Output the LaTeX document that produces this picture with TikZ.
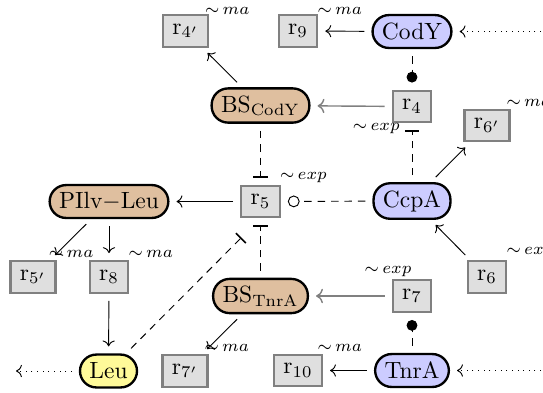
\documentclass[tikz,border=0pt]{standalone}
\usepackage{amsmath}
\usetikzlibrary{arrows.meta}
\tikzset{>=To}
\def\rescale{0.4255}

\begin{document}
\begin{tikzpicture}[x=\rescale pt, y=-\rescale pt,
  species/.style={rectangle, rounded corners=7pt, draw=black, line width=1pt, inner xsep=4pt, inner ysep=3pt, minimum height=14pt},
  bsite/.style={species, fill=brown!50},
  prot/.style={species, fill=blue!20},
  metab/.style={species, fill=yellow!40},
  rxn/.style={rectangle, draw=gray, fill=gray!25, line width=0.9pt, inner xsep=4pt, inner ysep=2pt, minimum height=13.5pt},
  lbl/.style={font=\scriptsize, inner sep=0.8pt},
  edge/.style={shorten >=3pt, shorten <=3pt},
  flux/.style={edge, ->},
  fluxg/.style={flux, draw=gray, line width=0.6pt},
  modline/.style={edge, dash pattern=on 3.2pt off 2.5pt},
  inh/.style={modline, -{Bar[width=6pt, line width=0.7pt]}},
  stim/.style={modline, -{Circle[length=4.6pt]}},
  cat/.style={modline, -{Circle[open, length=5pt]}},
  ext/.style={edge, dotted, ->}
]
\useasboundingbox (0,0) rectangle (543,392);

% species
\node[prot] (CodY) at (412,31.5) {CodY};
\node[bsite] (BSCodY) at (260.5,105.5) {BS$_{\mathrm{CodY}}$};
\node[bsite] (PIlvLeu) at (109,201.5) {PIlv$-$Leu};
\node[prot] (CcpA) at (412,201) {CcpA};
\node[bsite] (BSTnrA) at (260.5,296) {BS$_{\mathrm{TnrA}}$};
\node[metab] (Leu) at (108.5,371) {Leu};
\node[prot] (TnrA) at (412,370.5) {TnrA};

% reactions
\node[rxn, label={[lbl, yshift=-1.2pt]above right:${\sim}\,ma$}] (r4p) at (185.5,31) {r$_{4'}$};
\node[rxn, label={[lbl, yshift=-1.2pt]above right:${\sim}\,ma$}] (r9) at (298,31) {r$_9$};
\node[rxn, label={[lbl, xshift=3pt, yshift=1pt]below left:${\sim}\,exp$}] (r4) at (412,106.5) {r$_4$};
\node[rxn, label={[lbl]above right:${\sim}\,ma$}] (r6p) at (487,125.5) {r$_{6'}$};
\node[rxn, label={[lbl]above right:${\sim}\,exp$}] (r5) at (260.5,201.5) {r$_5$};
\node[rxn, label={[lbl, xshift=-1.5pt]above right:${\sim}\,ma$}] (r5p) at (33,277) {r$_{5'}$};
\node[rxn, label={[lbl]above right:${\sim}\,ma$}] (r8) at (109,277) {r$_8$};
\node[rxn, label={[lbl]above right:${\sim}\,exp$}] (r6) at (487,277) {r$_6$};
\node[rxn, label={[lbl, xshift=8pt]above left:${\sim}\,exp$}] (r7) at (412,296) {r$_7$};
\node[rxn, label={[lbl]above right:${\sim}\,ma$}] (r7p) at (185,371) {r$_{7'}$};
\node[rxn, label={[lbl]above right:${\sim}\,ma$}] (r10) at (298,370.5) {r$_{10}$};

% inputs and outputs
\coordinate (inCodY) at (565,31.5);
\coordinate (inTnrA) at (565,370.5);
\coordinate (outLeu) at (9,371);

% fluxes
\draw[flux] (CodY) -- (r9);
\draw[flux] (BSCodY) -- (r4p);
\draw[fluxg] (r4) -- (BSCodY);
\draw[flux] (CcpA) -- (r6p);
\draw[flux] (r6) -- (CcpA);
\draw[flux] (r5) -- (PIlvLeu);
\draw[flux] (PIlvLeu) -- (r5p);
\draw[flux] (PIlvLeu) -- (r8);
\draw[flux] (r8) -- (Leu);
\draw[fluxg] (r7) -- (BSTnrA);
\draw[flux] (BSTnrA) -- (r7p);
\draw[flux] (TnrA) -- (r10);

% modifiers
\draw[stim] (CodY) -- (r4);
\draw[inh] (CcpA) -- (r4);
\draw[inh] (BSCodY) -- (r5);
\draw[cat] (CcpA) -- (r5);
\draw[inh] (BSTnrA) -- (r5);
\draw[inh, shorten >=11.5pt] (Leu) -- (r5.south);
\draw[stim] (TnrA) -- (r7);

% boundary
\draw[ext] (inCodY) -- (CodY);
\draw[ext] (inTnrA) -- (TnrA);
\draw[ext] (Leu) -- (outLeu);

\end{tikzpicture}
\end{document}
